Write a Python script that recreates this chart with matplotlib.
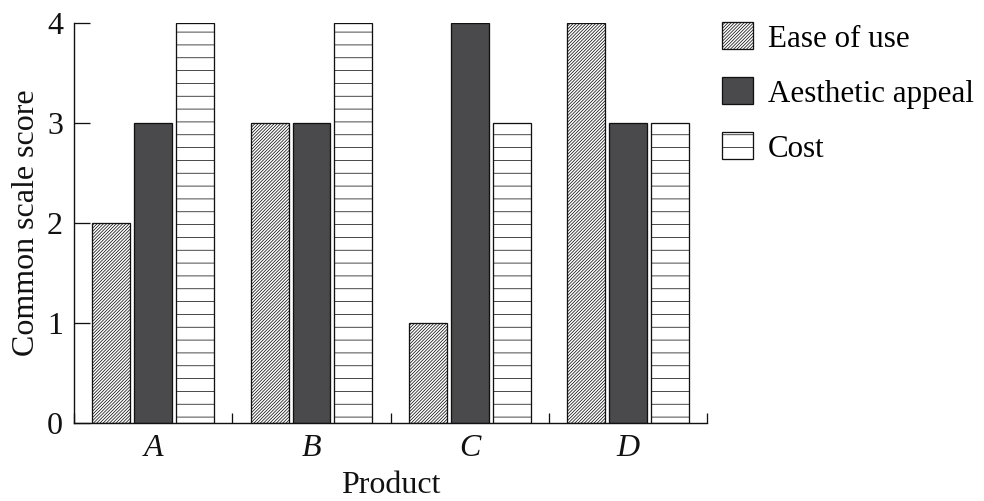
import matplotlib
matplotlib.use("Agg")
import matplotlib.pyplot as plt
import numpy as np

products = ["A", "B", "C", "D"]
series_names = ["Ease of use", "Aesthetic appeal", "Cost"]
ease_of_use = [2, 3, 1, 4]
aesthetic_appeal = [3, 3, 4, 3]
cost = [4, 4, 3, 3]
y_ticks = [0, 1, 2, 3, 4]

DPI = 77
def pt(px):
    return px * 72.0 / DPI

plt.rcParams['font.family'] = ['Liberation Serif', 'DejaVu Serif']
plt.rcParams['hatch.linewidth'] = 0.7
plt.rcParams['hatch.color'] = '#1a1a1a'

fig = plt.figure(figsize=(984.4 / DPI, 501.4 / DPI), dpi=DPI)
ax = fig.add_axes([74 / 984, 1 - 423 / 501, (707 - 74) / 984, 400 / 501])

x = np.arange(len(products))
w = 0.24
off = 0.265
styles = [
    dict(facecolor='white', hatch='////////'),
    dict(facecolor='#4a4a4c', hatch=None),
    dict(facecolor='white', hatch='-'),
]
data = [ease_of_use, aesthetic_appeal, cost]
for i, (vals, name, st) in enumerate(zip(data, series_names, styles)):
    ax.bar(x + (i - 1) * off, vals, width=w, label=name, edgecolor='#111111',
           linewidth=pt(1.3), zorder=2, **st)

ax.set_xlim(-0.5, 3.5)
ax.set_ylim(0, 4)
ax.set_yticks(y_ticks)
ax.set_xticks(x)
ax.set_xticklabels(products, fontstyle='italic')
ax.set_xticks(np.arange(-0.5, 4.0, 1.0), minor=True)

for s in ['top', 'right']:
    ax.spines[s].set_visible(False)
for s in ['left', 'bottom']:
    ax.spines[s].set_linewidth(pt(1.4))
    ax.spines[s].set_color('#111111')

fs = pt(32)
ax.tick_params(axis='y', direction='in', length=pt(16), width=pt(1.3),
               pad=pt(11), labelsize=fs, colors='#111111')
ax.tick_params(axis='x', which='major', length=0, pad=pt(11), labelsize=fs,
               colors='#111111')
ax.tick_params(axis='x', which='minor', direction='in', length=pt(10),
               width=pt(1.3), colors='#111111')

ax.set_ylabel("Common scale score", fontsize=fs, color='#111111')
ax.yaxis.set_label_coords((41 - 74) / 633, 0.5)
ax.set_xlabel("Product", fontsize=fs, color='#111111')
ax.xaxis.set_label_coords(0.5, (423 - 471) / 400)

lfs = pt(31)
fig.legend(loc='upper left', bbox_to_anchor=(722 / 984, 1 - 22 / 501),
           frameon=False, fontsize=lfs, handlelength=1.0, handleheight=1.0,
           handletextpad=0.47, labelspacing=0.76, borderpad=0, borderaxespad=0)

fig.savefig("out.png", dpi=DPI)
